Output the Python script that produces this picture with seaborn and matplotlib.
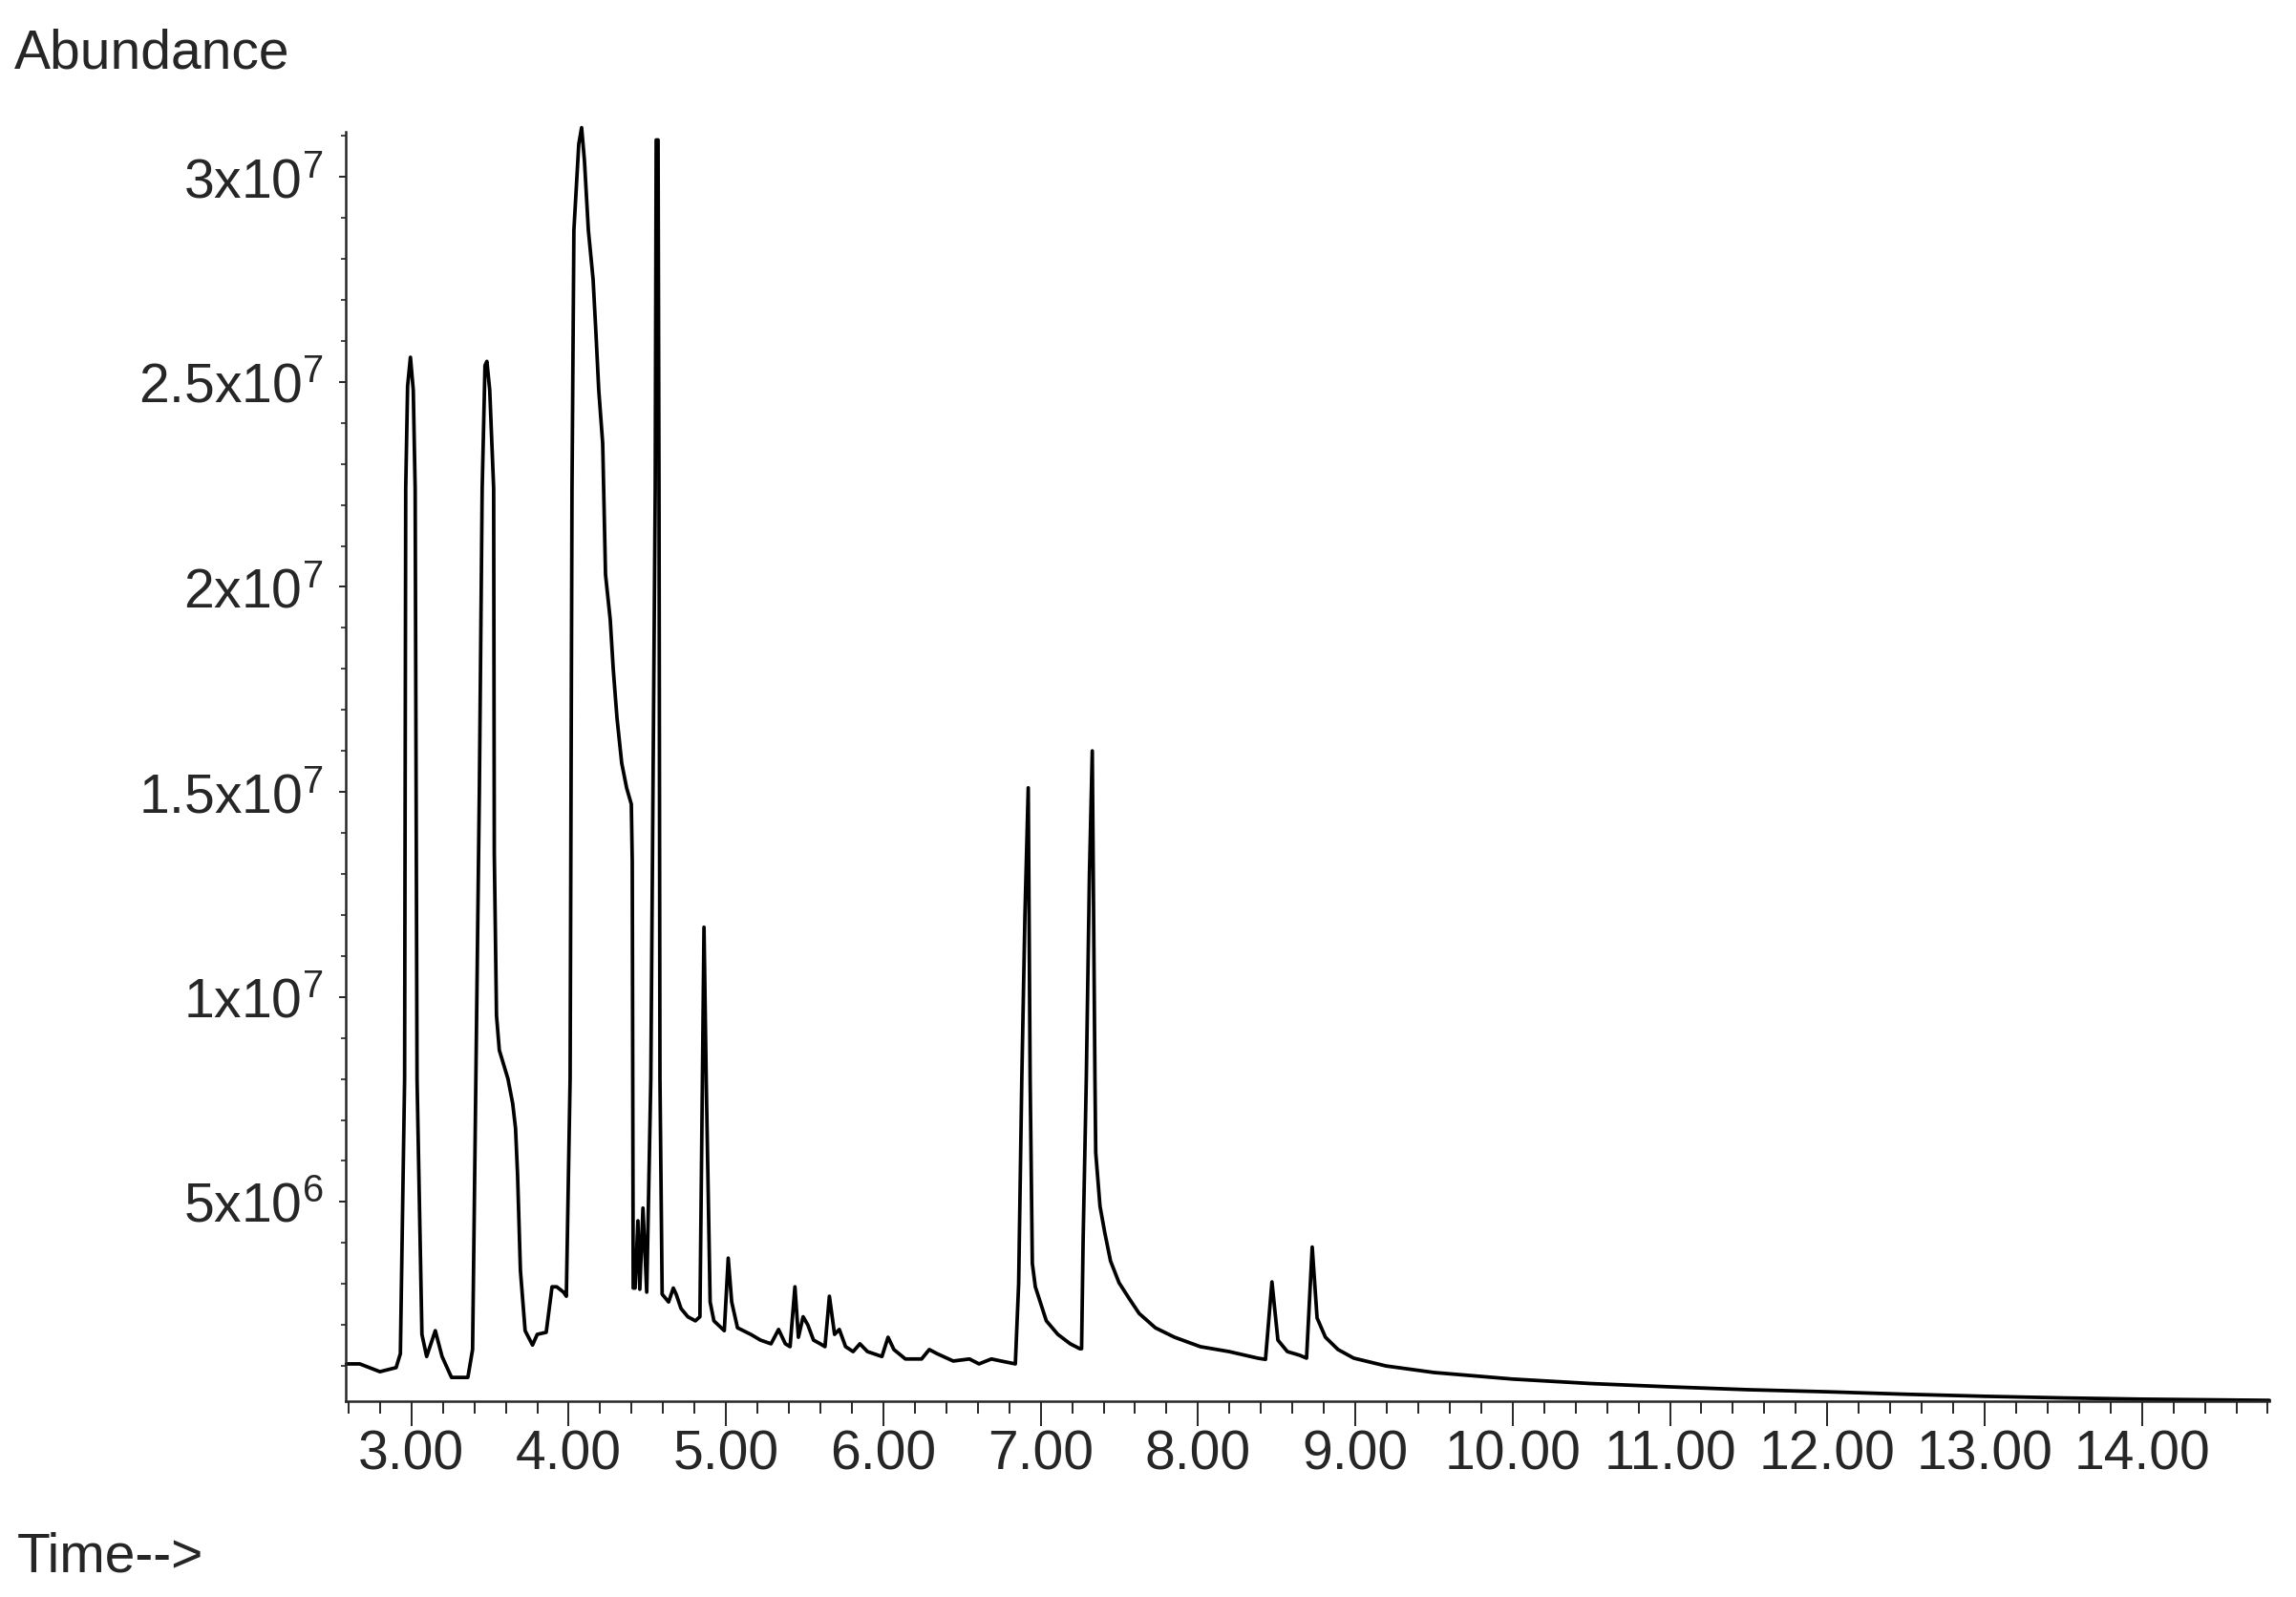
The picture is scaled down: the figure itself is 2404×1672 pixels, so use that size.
import numpy as np
import pandas as pd
import seaborn as sns
import matplotlib.pyplot as plt
from matplotlib.ticker import FixedLocator, MultipleLocator

# retention time (min) and abundance (x 1e6)
time_min = [
    2.587, 2.672, 2.80, 2.903, 2.93, 2.957, 2.964, 2.976, 2.994, 3.012, 3.024, 3.036,
    3.067, 3.097, 3.152, 3.195, 3.255, 3.359, 3.389, 3.41, 3.432, 3.45, 3.468, 3.48,
    3.498, 3.523, 3.527, 3.541, 3.559, 3.614, 3.644, 3.662, 3.675, 3.693, 3.723, 3.77,
    3.80, 3.857, 3.894, 3.924, 3.967, 3.985, 4.009, 4.021, 4.033, 4.064, 4.082, 4.10,
    4.125, 4.155, 4.173, 4.191, 4.216, 4.234, 4.264, 4.283, 4.307, 4.337, 4.368, 4.398,
    4.404, 4.41, 4.422, 4.44, 4.452, 4.472, 4.496, 4.522, 4.55, 4.556, 4.568, 4.574,
    4.58, 4.594, 4.635, 4.665, 4.683, 4.714, 4.757, 4.805, 4.834, 4.85, 4.86, 4.874,
    4.899, 4.923, 4.989, 5.014, 5.036, 5.073, 5.157, 5.219, 5.286, 5.334, 5.377, 5.407,
    5.438, 5.46, 5.49, 5.52, 5.556, 5.599, 5.629, 5.657, 5.69, 5.72, 5.76, 5.808,
    5.851, 5.899, 5.991, 6.03, 6.067, 6.14, 6.243, 6.292, 6.341, 6.444, 6.547, 6.608,
    6.687, 6.748, 6.839, 6.86, 6.88, 6.90, 6.921, 6.933, 6.947, 6.966, 7.036, 7.109,
    7.188, 7.249, 7.26, 7.27, 7.29, 7.31, 7.328, 7.345, 7.35, 7.377, 7.407, 7.444,
    7.498, 7.565, 7.626, 7.729, 7.851, 8.015, 8.198, 8.38, 8.429, 8.47, 8.508, 8.568,
    8.647, 8.69, 8.726, 8.757, 8.81, 8.89, 8.99, 9.195, 9.5, 10.0, 10.5, 11.0,
    11.5, 12.0, 12.5, 13.0, 13.5, 14.0, 14.5, 14.81,
]
abundance_e6 = [
    1.05, 1.05, 0.86, 0.96, 1.3, 8.0, 22.4, 24.9, 25.6, 24.8, 22.4, 8.0,
    1.77, 1.23, 1.86, 1.23, 0.72, 0.72, 1.4, 8.0, 15.0, 22.4, 25.4, 25.5,
    24.8, 22.4, 13.5, 9.55, 8.7, 8.0, 7.4, 6.8, 5.66, 3.33, 1.86, 1.51,
    1.77, 1.82, 2.93, 2.93, 2.8, 2.7, 8.0, 22.4, 28.7, 30.8, 31.2, 30.4,
    28.7, 27.5, 26.2, 24.8, 23.5, 20.3, 19.2, 18.0, 16.8, 15.7, 15.1, 14.7,
    13.3, 2.9, 2.9, 4.54, 2.87, 4.85, 2.8, 8.0, 22.4, 30.9, 30.9, 22.4,
    8.0, 2.75, 2.56, 2.9, 2.75, 2.4, 2.2, 2.1, 2.2, 8.0, 11.7, 8.0,
    2.56, 2.1, 1.86, 3.63, 2.56, 1.93, 1.77, 1.63, 1.54, 1.89, 1.54, 1.47,
    2.93, 1.7, 2.2, 2.0, 1.63, 1.54, 1.47, 2.7, 1.77, 1.89, 1.47, 1.35,
    1.54, 1.35, 1.23, 1.70, 1.4, 1.17, 1.17, 1.4, 1.3, 1.12, 1.17, 1.05,
    1.17, 1.12, 1.05, 3.0, 8.0, 12.0, 15.1, 8.0, 3.5, 2.93, 2.1, 1.77,
    1.54, 1.42, 1.42, 4.1, 8.0, 13.0, 16.0, 8.0, 6.2, 4.9, 4.26, 3.56,
    3.03, 2.63, 2.28, 1.93, 1.70, 1.47, 1.35, 1.19, 1.16, 3.05, 1.63, 1.35,
    1.26, 1.19, 3.9, 2.17, 1.70, 1.40, 1.19, 1.0, 0.84, 0.68, 0.57, 0.49,
    0.42, 0.37, 0.31, 0.26, 0.22, 0.19, 0.17, 0.16,
]

x_ticks = [3, 4, 5, 6, 7, 8, 9, 10, 11, 12, 13, 14]
x_tick_labels = ['3.00', '4.00', '5.00', '6.00', '7.00', '8.00', '9.00',
                 '10.00', '11.00', '12.00', '13.00', '14.00']
y_ticks = [5e6, 1e7, 1.5e7, 2e7, 2.5e7, 3e7]
y_tick_labels = [r'$\mathregular{5x10^6}$', r'$\mathregular{1x10^7}$',
                 r'$\mathregular{1.5x10^7}$', r'$\mathregular{2x10^7}$',
                 r'$\mathregular{2.5x10^7}$', r'$\mathregular{3x10^7}$']

df = pd.DataFrame({'time': time_min, 'abundance': np.array(abundance_e6) * 1e6})

sns.set_style('ticks')
plt.rcParams['font.family'] = ['Liberation Sans', 'DejaVu Sans']
plt.rcParams['mathtext.fontset'] = 'custom'
plt.rcParams['mathtext.rm'] = 'Liberation Sans'

fig = plt.figure(figsize=(24.04, 16.72), dpi=100)
ax = fig.add_axes([0.1506, 0.1226, 0.8378, 0.7949])

sns.lineplot(data=df, x='time', y='abundance', estimator=None, sort=False,
             color='black', linewidth=2.7, ax=ax)
ax.lines[0].set_clip_on(False)

ax.set_xlim(2.583, 14.81)
ax.set_ylim(0.14e6, 31.1e6)

ax.xaxis.set_major_locator(FixedLocator(x_ticks))
ax.set_xticklabels(x_tick_labels)
ax.xaxis.set_minor_locator(MultipleLocator(0.2))
ax.yaxis.set_major_locator(FixedLocator(y_ticks))
ax.set_yticklabels(y_tick_labels)
ax.yaxis.set_minor_locator(MultipleLocator(1e6))

ax.tick_params(axis='x', which='major', length=19, width=1.4, labelsize=41, pad=2)
ax.tick_params(axis='x', which='minor', length=9, width=1.4)
ax.tick_params(axis='y', which='major', length=5, width=1.4, labelsize=41, pad=12)
ax.tick_params(axis='y', which='minor', length=3.5, width=1.2)

sns.despine(ax=ax)
for s in ['left', 'bottom']:
    ax.spines[s].set_linewidth(1.8)
ax.set_xlabel('')
ax.set_ylabel('')

fig.text(15 / 2404, 1 - 72 / 1672, 'Abundance', fontsize=41, va='baseline', ha='left')
fig.text(18 / 2404, 1 - 1646 / 1672, 'Time-->', fontsize=41, va='baseline', ha='left')

fig.savefig('out.png', dpi=100, facecolor='white')
